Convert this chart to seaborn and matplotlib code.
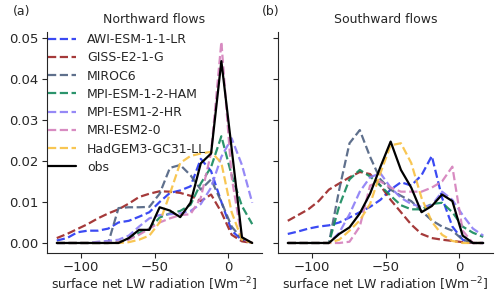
import matplotlib
matplotlib.use("Agg")
import matplotlib.pyplot as plt
import numpy as np
import pandas as pd
import seaborn as sns

# bin centres (7 W/m2 bins from -120 to 20)
x = [-116.5, -109.5, -102.5, -95.5, -88.5, -81.5, -74.5, -67.5, -60.5, -53.5,
     -46.5, -39.5, -32.5, -25.5, -18.5, -11.5, -4.5, 2.5, 9.5, 16.5]

models = ["AWI-ESM-1-1-LR", "GISS-E2-1-G", "MIROC6", "MPI-ESM-1-2-HAM",
          "MPI-ESM1-2-HR", "MRI-ESM2-0", "HadGEM3-GC31-LL", "obs"]
colors = ["#2636f2", "#9b2424", "#4d6080", "#14895c", "#8b7cf6", "#d47fbb", "#f8c040", "black"]

# northward flows
north_awi = [0.0006, 0.0012, 0.0026, 0.003, 0.003, 0.0035, 0.005, 0.0054, 0.0064, 0.0075,
             0.01, 0.0122, 0.0128, 0.0138, 0.0205, 0.0175, 0.01, 0.003, 0.0007, 0.0]
north_giss = [0.0012, 0.0022, 0.0034, 0.0046, 0.006, 0.0072, 0.0082, 0.0096, 0.0112, 0.012,
              0.0126, 0.0125, 0.0122, 0.0115, 0.0102, 0.0118, 0.0075, 0.002, 0.0004, 0.0]
north_miroc = [0.0, 0.0, 0.0, 0.0, 0.0, 0.0, 0.0085, 0.0087, 0.0087, 0.0088,
               0.012, 0.0183, 0.019, 0.0165, 0.013, 0.0155, 0.01, 0.004, 0.001, 0.0]
north_ham = [0.0, 0.0, 0.0, 0.0, 0.0, 0.0, 0.0002, 0.001, 0.0025, 0.0035,
             0.0062, 0.0072, 0.0078, 0.0093, 0.0145, 0.0185, 0.026, 0.0165, 0.009, 0.0046]
north_hr = [0.0, 0.0, 0.0, 0.0, 0.0003, 0.0005, 0.0008, 0.0018, 0.004, 0.006,
            0.0068, 0.007, 0.0072, 0.0078, 0.0095, 0.0135, 0.021, 0.0255, 0.019, 0.0098]
north_mri = [0.0, 0.0, 0.0, 0.0, 0.0, 0.0, 0.0002, 0.0008, 0.002, 0.0035,
             0.005, 0.006, 0.0068, 0.007, 0.011, 0.022, 0.049, 0.016, 0.001, 0.0]
north_had = [0.0, 0.0, 0.0, 0.0, 0.0, 0.0, 0.0, 0.0002, 0.0008, 0.0018,
             0.005, 0.012, 0.0195, 0.0212, 0.0218, 0.0222, 0.0195, 0.0075, 0.0008, 0.0]
north_obs = [0.0, 0.0, 0.0, 0.0, 0.0, 0.0, 0.0, 0.0012, 0.0032, 0.0032,
             0.0087, 0.0079, 0.0063, 0.0098, 0.0194, 0.0218, 0.0443, 0.023, 0.0014, 0.0]

# southward flows
south_awi = [0.0022, 0.0028, 0.0035, 0.004, 0.0043, 0.005, 0.0062, 0.0075, 0.0088, 0.0105,
             0.013, 0.0148, 0.014, 0.0165, 0.0212, 0.011, 0.004, 0.0008, 0.0, 0.0]
south_giss = [0.0054, 0.0068, 0.0082, 0.0102, 0.013, 0.0145, 0.016, 0.0173, 0.0168, 0.014,
              0.0105, 0.0075, 0.0045, 0.0022, 0.0012, 0.0008, 0.0005, 0.0002, 0.0, 0.0]
south_miroc = [0.0, 0.0, 0.0, 0.0, 0.0, 0.013, 0.0243, 0.0275, 0.021, 0.0155,
               0.013, 0.0115, 0.0102, 0.0078, 0.0055, 0.004, 0.003, 0.0008, 0.0, 0.0]
south_ham = [0.0, 0.0, 0.0, 0.0, 0.0, 0.009, 0.0155, 0.0178, 0.0162, 0.014,
             0.0115, 0.0092, 0.0082, 0.0082, 0.0095, 0.0098, 0.0075, 0.004, 0.0025, 0.0015]
south_hr = [0.0, 0.0, 0.0, 0.0, 0.0, 0.0025, 0.007, 0.0125, 0.016, 0.017,
            0.0135, 0.011, 0.0095, 0.0088, 0.0092, 0.0125, 0.0105, 0.0068, 0.0035, 0.0018]
south_mri = [0.0, 0.0, 0.0, 0.0, 0.0, 0.0, 0.0003, 0.004, 0.014, 0.015,
             0.0135, 0.0125, 0.0125, 0.0125, 0.0135, 0.015, 0.0186, 0.003, 0.0, 0.0]
south_had = [0.0, 0.0, 0.0, 0.0, 0.0, 0.0008, 0.003, 0.0055, 0.0095, 0.017,
             0.0238, 0.0243, 0.0195, 0.011, 0.0052, 0.002, 0.0005, 0.0, 0.0, 0.0]
south_obs = [0.0, 0.0, 0.0, 0.0, 0.0, 0.0022, 0.0038, 0.0072, 0.012, 0.0185,
             0.0247, 0.0178, 0.0135, 0.0075, 0.009, 0.0118, 0.0102, 0.0018, 0.0, 0.0]

north = [north_awi, north_giss, north_miroc, north_ham, north_hr, north_mri, north_had, north_obs]
south = [south_awi, south_giss, south_miroc, south_ham, south_hr, south_mri, south_had, south_obs]

sns.set_style("ticks")
plt.rcParams["font.family"] = ["DejaVu Sans"]
plt.rcParams["font.size"] = 9

fig = plt.figure(figsize=(5.0, 2.97), dpi=100)
ax1 = fig.add_axes([0.094, 0.148, 0.43, 0.745])
ax2 = fig.add_axes([0.556, 0.148, 0.43, 0.745], sharey=ax1)

for ax, data in [(ax1, north), (ax2, south)]:
    for name, col, vals in zip(models, colors, data):
        df = pd.DataFrame({"x": x, "y": vals})
        if name == "obs":
            sns.lineplot(data=df, x="x", y="y", ax=ax, color=col, lw=1.6, label=name)
        else:
            sns.lineplot(data=df, x="x", y="y", ax=ax, color=col, lw=1.6, ls="--",
                         alpha=0.9, label=name)
    ax.set_xlabel("surface net LW radiation [Wm$^{-2}$]", fontsize=9, labelpad=1)
    ax.set_ylabel("")
    ax.set_xticks([-100, -50, 0])
    ax.tick_params(labelsize=9.5, pad=2.5)
    sns.despine(ax=ax)

ax1.set_yticks([0.0, 0.01, 0.02, 0.03, 0.04, 0.05])
ax1.set_yticklabels(["0.00", "0.01", "0.02", "0.03", "0.04", "0.05"])
plt.setp(ax2.get_yticklabels(), visible=False)
ax2.get_legend().remove()
ax1.legend(loc="upper left", bbox_to_anchor=(0.0, 1.0), frameon=False, fontsize=9,
           labelspacing=0.42, borderaxespad=0.0, borderpad=0.1,
           handlelength=2.2, handletextpad=0.9)

ax1.set_title("Northward flows", fontsize=9, pad=6)
ax2.set_title("Southward flows", fontsize=9, pad=6)
fig.text(0.025, 0.96, "(a)", fontsize=9, va="center")
fig.text(0.523, 0.96, "(b)", fontsize=9, va="center")

fig.savefig("out.png", dpi=100)
